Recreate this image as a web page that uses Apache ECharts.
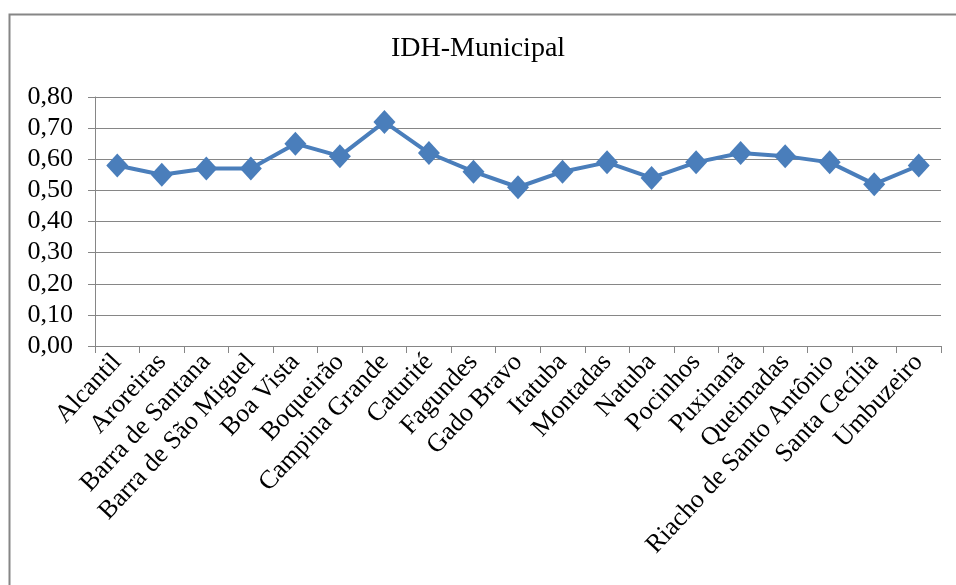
<!DOCTYPE html>
<html>
<head>
<meta charset="utf-8">
<script src="https://cdn.jsdelivr.net/npm/echarts@6/dist/echarts.min.js"></script>
<style>
  html, body { margin: 0; padding: 0; background: #fff; }
  #chart { width: 956px; height: 585px; }
</style>
</head>
<body>
<div id="chart"></div>
<script>
// Municipalities of the region
var municipios = [
  'Alcantil', 'Aroreiras', 'Barra de Santana', 'Barra de São Miguel', 'Boa Vista',
  'Boqueirão', 'Campina Grande', 'Caturité', 'Fagundes', 'Gado Bravo', 'Itatuba',
  'Montadas', 'Natuba', 'Pocinhos', 'Puxinanã', 'Queimadas', 'Riacho de Santo Antônio',
  'Santa Cecília', 'Umbuzeiro'
];

// Municipal Human Development Index
var idhm = [
  0.58, 0.55, 0.57, 0.57, 0.65,
  0.61, 0.72, 0.62, 0.56, 0.51, 0.56,
  0.59, 0.54, 0.59, 0.62, 0.61, 0.59,
  0.52, 0.58
];

var titulo = 'IDH-Municipal';

var FONT = '"Liberation Serif", "Times New Roman", serif';
var GRAY = '#868686';

var chart = echarts.init(document.getElementById('chart'), null, { renderer: 'canvas' });

chart.setOption({
  animation: false,
  backgroundColor: '#ffffff',
  graphic: [{
    type: 'rect',
    left: 7, top: 12,
    shape: { width: 1000, height: 700 },
    style: { fill: 'none', stroke: GRAY, lineWidth: 2 },
    silent: true
  }],
  title: {
    text: titulo,
    left: 'center',
    top: 30,
    textStyle: { fontFamily: FONT, fontSize: 28, fontWeight: 'normal', color: '#000' }
  },
  grid: { left: 95, right: 15, top: 97, bottom: 239 },
  xAxis: {
    type: 'category',
    data: municipios,
    boundaryGap: true,
    axisLine: { lineStyle: { color: GRAY, width: 1 } },
    axisTick: { show: true, length: 7, lineStyle: { color: GRAY } },
    axisLabel: {
      rotate: 47,
      interval: 0,
      margin: 12,
      fontFamily: FONT,
      fontSize: 26,
      color: '#000'
    },
    splitLine: { show: false }
  },
  yAxis: {
    type: 'value',
    min: 0,
    max: 0.8,
    interval: 0.1,
    axisLine: { show: true, lineStyle: { color: GRAY, width: 1 } },
    axisTick: { show: true, length: 7, lineStyle: { color: GRAY } },
    axisLabel: {
      margin: 22,
      fontFamily: FONT,
      fontSize: 26,
      color: '#000',
      formatter: function (v) { return v.toFixed(2).replace('.', ','); }
    },
    splitLine: { show: true, lineStyle: { color: GRAY, width: 1 } }
  },
  series: [{
    type: 'line',
    data: idhm,
    symbol: 'diamond',
    symbolSize: [22, 24],
    itemStyle: { color: '#4A7EBB' },
    lineStyle: { color: '#4A7EBB', width: 4 }
  }]
});
</script>
</body>
</html>
